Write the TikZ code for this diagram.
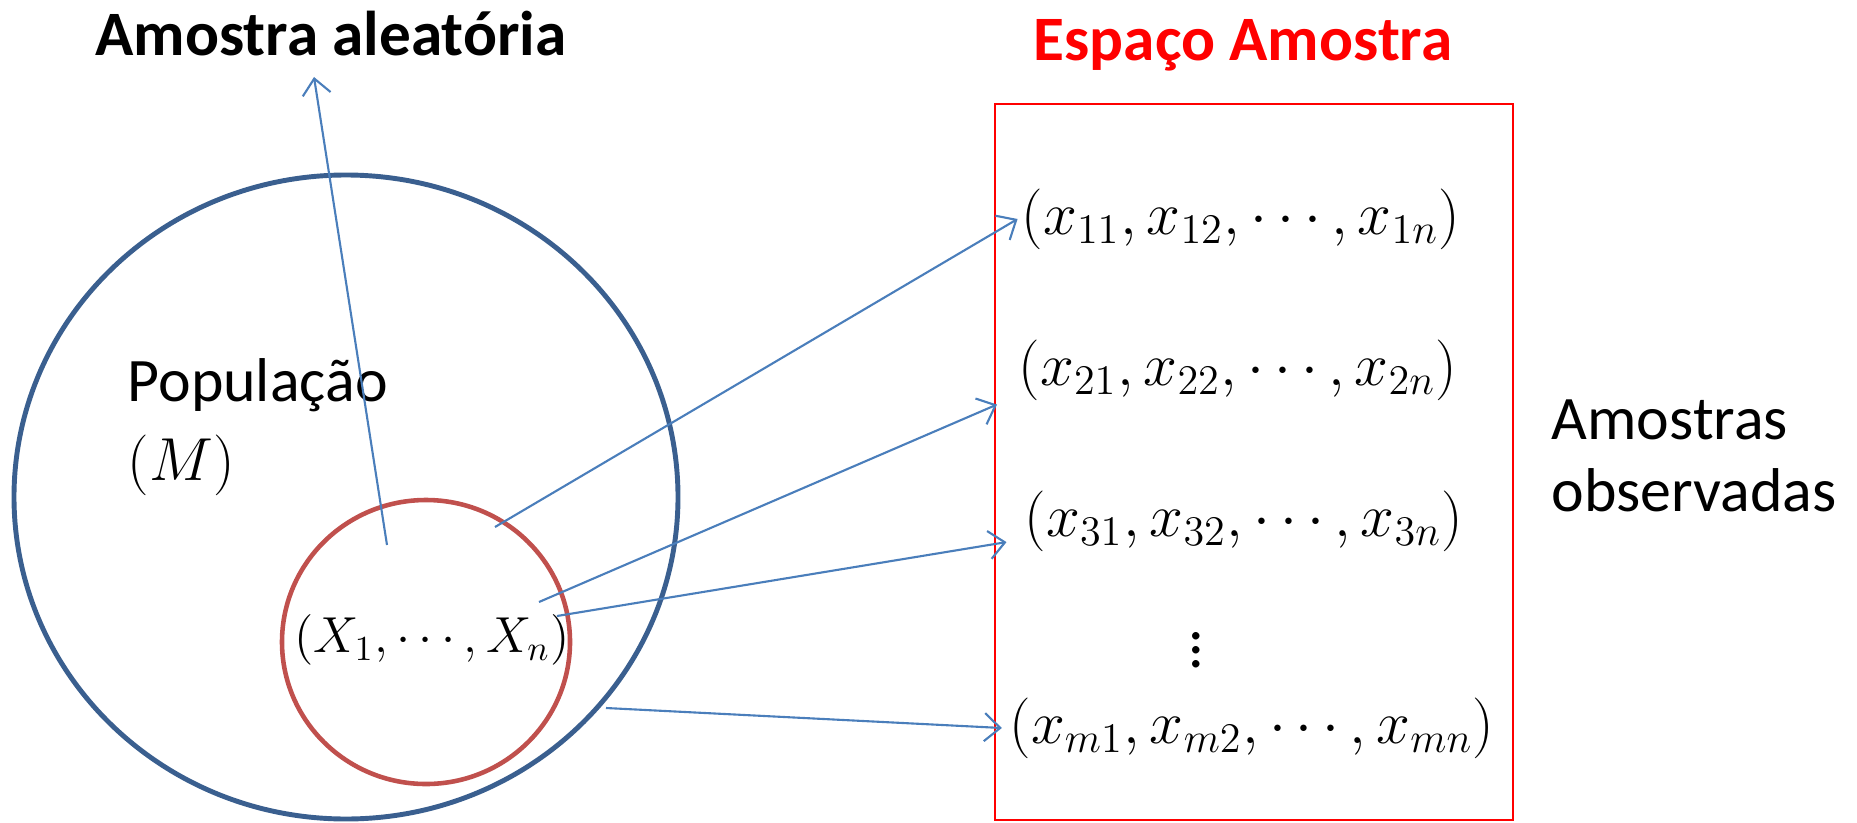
\documentclass[tikz,border=0pt]{standalone}
\usepackage{fontspec}
\setmainfont{Carlito}
\usetikzlibrary{arrows.meta}
\definecolor{popblue}{HTML}{3A5F8F}
\definecolor{amred}{HTML}{C0504D}
\definecolor{arblue}{HTML}{4A7EBB}
\tikzset{
  seta/.style={draw=arblue, line width=0.6pt, -{Straight Barb[length=4.5pt,width=8pt]}},
  tupla/.style={inner sep=1pt, font=\fontsize{17.6}{20}\selectfont},
  rotulo/.style={inner sep=0pt, font=\fontsize{17.6}{20.5}\selectfont, align=left},
  titulo/.style={font=\fontsize{18}{22}\selectfont\bfseries},
}
\begin{document}
\begin{tikzpicture}
\useasboundingbox (0,0) rectangle (18.57,8.22);

\draw[popblue, line width=1.4pt] (3.46,3.25) ellipse (3.32 and 3.22);
\draw[amred, line width=1.3pt] (4.26,1.80) ellipse (1.44 and 1.42);

\node[titulo] (aleat) at (3.31,7.88) {Amostra aleatória};
\node[titulo, text=red] (espaco) at (12.43,7.77) {Espaço Amostra};

\node[rotulo, anchor=west] (pop) at (1.27,4.37) {População};
\node[anchor=west, inner sep=0pt, font=\fontsize{16}{19}\selectfont] (M) at (1.27,3.57) {$(M)$};
\node[font=\fontsize{14.5}{17}\selectfont] (Xn) at (4.32,1.82) {$(X_1,\cdots,X_n)$};

% espaco amostral
\draw[red, line width=0.5pt] (9.95,0.02) rectangle (15.13,7.18);
\node[tupla] (r1) at (12.41,6.03) {$(x_{11},x_{12},\cdots,x_{1n})$};
\node[tupla] (r2) at (12.38,4.52) {$(x_{21},x_{22},\cdots,x_{2n})$};
\node[tupla] (r3) at (12.44,3.01) {$(x_{31},x_{32},\cdots,x_{3n})$};
\node[tupla] (rv) at (11.96,1.82) {$\vdots$};
\node[tupla] (rm) at (12.52,0.94) {$(x_{m1},x_{m2},\cdots,x_{mn})$};

\node[rotulo, anchor=west] (obs) at (15.51,3.66) {Amostras\\observadas};

% setas
\coordinate (s0) at (3.87,2.77);
\coordinate (t0) at (3.14,7.45);
\coordinate (s1) at (4.95,2.95);
\coordinate (s2) at (5.39,2.20);
\coordinate (s3) at (5.57,2.06);
\coordinate (s4) at (6.06,1.14);

\draw[seta] (s0) -- (t0);
\draw[seta] (s1) -- (r1.west);
\draw[seta] (s2) -- ([xshift=-5pt]r2.south west);
\draw[seta] (s3) -- ([xshift=-4pt,yshift=-6pt]r3.west);
\draw[seta] (s4) -- ([xshift=-1pt]rm.west);
\end{tikzpicture}
\end{document}
